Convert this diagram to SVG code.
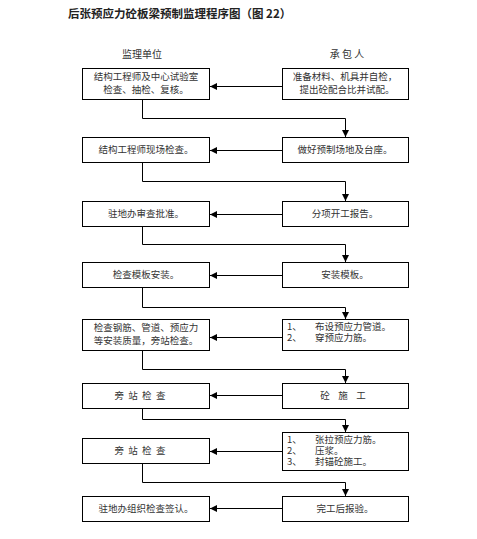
<svg xmlns="http://www.w3.org/2000/svg" width="477" height="539" viewBox="0 0 477 539">
<defs>
<marker id="ah" viewBox="0 0 10 10" refX="10" refY="5" markerWidth="7" markerHeight="7" markerUnits="userSpaceOnUse" orient="auto">
<path d="M0,0 L10,5 L0,10 z" fill="#000"/>
</marker>
<style>
.box{fill:#fff;stroke:#000;stroke-width:1}
.t{font-family:"Noto Sans CJK SC","Liberation Sans",sans-serif;font-size:9.5px;fill:#333}
.h{font-family:"Noto Sans CJK SC","Liberation Sans",sans-serif;font-size:10px;fill:#333}
.c{fill:none;stroke:#000;stroke-width:1}
</style>
</defs>
<rect width="477" height="539" fill="#fff"/>
<text x="68" y="18" font-family="Noto Sans CJK SC, Liberation Sans, sans-serif" font-size="11.5" font-weight="bold" fill="#222">后张预应力砼板梁预制监理程序图（图 22）</text>
<text class="h" x="142" y="58" text-anchor="middle">监理单位</text>
<text class="h" x="347" y="58" text-anchor="middle" xml:space="preserve">承 包 人</text>

<g id="L1"><rect class="box" x="82.5" y="68.5" width="127" height="31"/>
<text class="t" x="146" y="80" text-anchor="middle">结构工程师及中心试验室</text>
<text class="t" x="146" y="93" text-anchor="middle">检查、抽检、复核。</text></g>
<g id="R1"><rect class="box" x="282.5" y="68.5" width="126" height="31"/>
<text class="t" x="345" y="80" text-anchor="middle">准备材料、机具并自检，</text>
<text class="t" x="347" y="93" text-anchor="middle">提出砼配合比并试配。</text></g>

<g id="L2"><rect class="box" x="82.5" y="137.5" width="127" height="25"/>
<text class="t" x="146" y="153" text-anchor="middle">结构工程师现场检查。</text></g>
<g id="R2"><rect class="box" x="282.5" y="137.5" width="126" height="25"/>
<text class="t" x="345" y="153" text-anchor="middle">做好预制场地及台座。</text></g>

<g id="L3"><rect class="box" x="82.5" y="201.5" width="127" height="25"/>
<text class="t" x="146" y="217" text-anchor="middle">驻地办审查批准。</text></g>
<g id="R3"><rect class="box" x="282.5" y="201.5" width="126" height="25"/>
<text class="t" x="345" y="217" text-anchor="middle">分项开工报告。</text></g>

<g id="L4"><rect class="box" x="82.5" y="262.5" width="127" height="25"/>
<text class="t" x="146" y="278" text-anchor="middle">检查模板安装。</text></g>
<g id="R4"><rect class="box" x="282.5" y="262.5" width="126" height="25"/>
<text class="t" x="345" y="278" text-anchor="middle">安装模板。</text></g>

<g id="L5"><rect class="box" x="82.5" y="319.5" width="127" height="31"/>
<text class="t" x="146" y="331" text-anchor="middle">检查钢筋、管道、预应力</text>
<text class="t" x="146" y="344" text-anchor="middle">等安装质量，旁站检查。</text></g>
<g id="R5"><rect class="box" x="282.5" y="319.5" width="126" height="31"/>
<text class="t" x="287" y="330">1、<tspan x="315">布设预应力管道。</tspan></text>
<text class="t" x="287" y="341">2、<tspan x="315">穿预应力筋。</tspan></text></g>

<g id="L6"><rect class="box" x="82.5" y="383.5" width="127" height="25"/>
<text class="t" x="140" y="399" text-anchor="middle" xml:space="preserve">旁  站  检  查</text></g>
<g id="R6"><rect class="box" x="282.5" y="383.5" width="126" height="25"/>
<text class="t" x="343" y="399" text-anchor="middle" xml:space="preserve">砼    施    工</text></g>

<g id="L7"><rect class="box" x="82.5" y="438.5" width="127" height="25"/>
<text class="t" x="140" y="454" text-anchor="middle" xml:space="preserve">旁  站  检  查</text></g>
<g id="R7"><rect class="box" x="282.5" y="432.5" width="126" height="38"/>
<text class="t" x="287" y="443">1、<tspan x="315">张拉预应力筋。</tspan></text>
<text class="t" x="287" y="454">2、<tspan x="315">压浆。</tspan></text>
<text class="t" x="287" y="465">3、<tspan x="315">封锚砼施工。</tspan></text></g>

<g id="L8"><rect class="box" x="82.5" y="496.5" width="127" height="25"/>
<text class="t" x="146" y="512" text-anchor="middle">驻地办组织检查签认。</text></g>
<g id="R8"><rect class="box" x="282.5" y="496.5" width="126" height="25"/>
<text class="t" x="345" y="512" text-anchor="middle">完工后报验。</text></g>

<g id="connectors">
<line class="c" x1="282" y1="86.5" x2="210" y2="86.5" marker-end="url(#ah)"/>
<line class="c" x1="282" y1="150.5" x2="210" y2="150.5" marker-end="url(#ah)"/>
<line class="c" x1="282" y1="214.5" x2="210" y2="214.5" marker-end="url(#ah)"/>
<line class="c" x1="282" y1="275.5" x2="210" y2="275.5" marker-end="url(#ah)"/>
<line class="c" x1="282" y1="337.5" x2="210" y2="337.5" marker-end="url(#ah)"/>
<line class="c" x1="282" y1="395.5" x2="210" y2="395.5" marker-end="url(#ah)"/>
<line class="c" x1="282" y1="451.5" x2="210" y2="451.5" marker-end="url(#ah)"/>
<line class="c" x1="282" y1="508.5" x2="210" y2="508.5" marker-end="url(#ah)"/>
<path class="c" d="M142.5,100 V118.5 H345.5 V137" marker-end="url(#ah)"/>
<path class="c" d="M142.5,163 V181.5 H345.5 V201" marker-end="url(#ah)"/>
<path class="c" d="M142.5,227 V244.5 H345.5 V262" marker-end="url(#ah)"/>
<path class="c" d="M142.5,288 V307.5 H345.5 V319" marker-end="url(#ah)"/>
<path class="c" d="M142.5,351 V369.5 H345.5 V383" marker-end="url(#ah)"/>
<path class="c" d="M142.5,409 V419.5 H345.5 V432" marker-end="url(#ah)"/>
<path class="c" d="M142.5,464 V482.5 H345.5 V496" marker-end="url(#ah)"/>
</g>
</svg>
